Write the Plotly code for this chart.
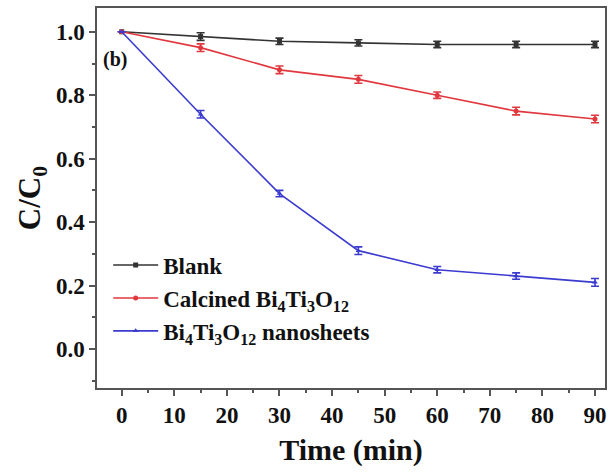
import plotly.graph_objects as go

time_min = [0, 15, 30, 45, 60, 75, 90]
blank = [1.0, 0.985, 0.97, 0.965, 0.96, 0.96, 0.96]
calcined = [1.0, 0.95, 0.88, 0.85, 0.80, 0.75, 0.725]
nanosheets = [1.0, 0.74, 0.49, 0.31, 0.25, 0.23, 0.21]
err_blank = [0.0, 0.012, 0.01, 0.01, 0.01, 0.01, 0.01]
err_calcined = [0.0, 0.012, 0.012, 0.012, 0.01, 0.012, 0.012]
err_nanosheets = [0.0, 0.012, 0.01, 0.012, 0.01, 0.01, 0.012]

x_ticks = [0, 10, 20, 30, 40, 50, 60, 70, 80, 90]
y_ticks = [0.0, 0.2, 0.4, 0.6, 0.8, 1.0]

names = ["Blank",
         "Calcined Bi<sub>4</sub>Ti<sub>3</sub>O<sub>12</sub>",
         "Bi<sub>4</sub>Ti<sub>3</sub>O<sub>12</sub> nanosheets"]
series = [blank, calcined, nanosheets]
errors = [err_blank, err_calcined, err_nanosheets]
colors = ["#333333", "#e0383e", "#3b3bd0"]
symbols = ["square", "circle", "triangle-up"]

FONT = "Liberation Serif"
INK = "#111111"

fig = go.Figure()
for name, ys, err, c, sym in zip(names, series, errors, colors, symbols):
    fig.add_trace(go.Scatter(
        x=time_min, y=ys, name=f"<b>{name}</b>", mode="lines+markers",
        line=dict(color=c, width=1.6),
        marker=dict(symbol=sym, size=5, color=c),
        error_y=dict(type="data", array=err, color=c, thickness=1.6, width=4),
    ))

axis_common = dict(
    showline=True, linecolor="#555555", linewidth=1.5, mirror=True,
    ticks="outside", ticklen=6, tickwidth=1.5, tickcolor="#555555",
    showgrid=False, zeroline=False,
    tickfont=dict(family=FONT, size=23, color=INK),
)

fig.update_xaxes(
    range=[-4.7, 91.9], tickvals=x_ticks,
    ticktext=[f"<b>{v}</b>" for v in x_ticks],
    minor=dict(dtick=5, tick0=0, ticks="outside", ticklen=3, tickcolor="#555555", tickwidth=1.5),
    title=dict(text="<b>Time (min)</b>", font=dict(family=FONT, size=30, color=INK), standoff=12),
    **axis_common,
)
fig.update_yaxes(
    range=[-0.123, 1.075], tickvals=y_ticks,
    ticktext=[f"<b>{v:.1f}</b>" for v in y_ticks],
    minor=dict(dtick=0.1, tick0=0, ticks="outside", ticklen=3, tickcolor="#555555", tickwidth=1.5),
    title=dict(text="<b>C/C<sub>0</sub></b>", font=dict(family=FONT, size=31, color=INK), standoff=6),
    **axis_common,
)

fig.add_annotation(
    text="<b>(b)</b>", xref="paper", yref="paper", x=0.008, y=0.865,
    xanchor="left", yanchor="middle", showarrow=False,
    font=dict(family=FONT, size=20, color=INK),
)

fig.update_layout(
    width=611, height=472,
    margin=dict(l=97, r=4, t=8, b=84),
    paper_bgcolor="white", plot_bgcolor="white",
    font=dict(family=FONT, size=20, color=INK),
    legend=dict(
        x=0.022, y=0.38, xanchor="left", yanchor="top",
        bgcolor="rgba(0,0,0,0)", tracegroupgap=0, itemwidth=45,
        font=dict(family=FONT, size=23, color=INK),
    ),
)

fig.write_html("out.html")
